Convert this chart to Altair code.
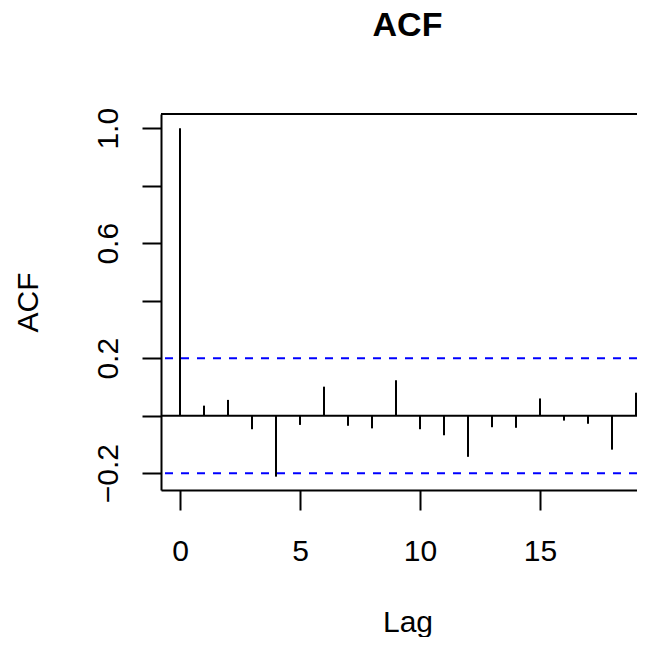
import altair as alt
import pandas as pd

# ---- data ----
lags = list(range(20))
acf_values = [1.0, 0.035, 0.055, -0.047, -0.212, -0.032, 0.101, -0.035, -0.044, 0.123,
              -0.047, -0.068, -0.143, -0.040, -0.042, 0.060, -0.017, -0.028, -0.118, 0.080]
ci_bounds = [0.2, -0.2]
zero_level = [0.0]
x_ticks = [0, 5, 10, 15]
y_ticks = [-0.2, 0.0, 0.2, 0.4, 0.6, 0.8, 1.0]

df = pd.DataFrame({"lag": lags, "acf": acf_values})
ci_df = pd.DataFrame({"ci": ci_bounds})
zero_df = pd.DataFrame({"zero": zero_level})

FONT = "Liberation Sans"
W, H = 476, 376

x_scale = alt.Scale(domain=[-0.7917, 19.0417], nice=False, zero=False)
y_scale = alt.Scale(domain=[-0.2584, 1.0494], nice=False, zero=False)

x_axis = alt.Axis(
    title="Lag", values=x_ticks, format="d", grid=False,
    labelFont=FONT, labelFontSize=30, labelColor="black",
    labelBaseline="alphabetic", labelAlign="center", labelPadding=50,
    labelFlush=False, labelOverlap=False,
    tickSize=20, tickWidth=2, tickColor="black",
    domainColor="black", domainWidth=2,
    titleFont=FONT, titleFontSize=30, titleFontWeight="normal", titleColor="black",
    titleBaseline="alphabetic", titleAlign="center", titleX=246.5, titleY=141,
)

y_axis = alt.Axis(
    title="ACF", values=y_ticks, grid=False,
    labelExpr="(abs(datum.value) < 1e-9 || abs(datum.value - 0.4) < 1e-9 || abs(datum.value - 0.8) < 1e-9) ? '' : replace(format(datum.value, '.1f'), '-', '\u2212')",
    labelFont=FONT, labelFontSize=30, labelColor="black",
    labelAngle=-90, labelAlign="center", labelBaseline="alphabetic", labelPadding=25,
    labelFlush=False, labelOverlap=False,
    tickSize=19, tickWidth=2, tickColor="black",
    domainColor="black", domainWidth=2,
    titleFont=FONT, titleFontSize=30, titleFontWeight="normal", titleColor="black",
    titleAngle=-90, titleBaseline="alphabetic", titleAlign="center", titleX=-124, titleY=188,
)

bars = alt.Chart(df).mark_rule(color="black", strokeWidth=2).encode(
    x=alt.X("lag:Q", scale=x_scale, axis=x_axis),
    y=alt.Y("acf:Q", scale=y_scale, axis=y_axis),
    y2=alt.datum(0),
)

zero_line = alt.Chart(zero_df).mark_rule(color="black", strokeWidth=2).encode(
    y=alt.Y("zero:Q", scale=y_scale, axis=y_axis),
)

ci_lines = alt.Chart(ci_df).mark_rule(color="#0000FF", strokeWidth=2, strokeDash=[8, 8]).encode(
    y=alt.Y("ci:Q", scale=y_scale, axis=y_axis),
)

top_frame = alt.Chart(zero_df).mark_rule(color="black", strokeWidth=2).encode(
    y=alt.value(0),
)

chart = alt.layer(bars, zero_line, ci_lines, top_frame).properties(
    width=W, height=H,
    title=alt.TitleParams(
        "ACF", font=FONT, fontSize=34, fontWeight="bold", color="black",
        anchor="middle", dx=8.5, baseline="alphabetic", offset=37,
    ),
    autosize=alt.AutoSizeParams(type="none"),
    padding={"left": 153, "top": 106, "right": 0, "bottom": 147},
).configure_view(stroke=None).configure(background="white")

chart.save("out.html", embed_options={"renderer": "svg", "actions": False})
